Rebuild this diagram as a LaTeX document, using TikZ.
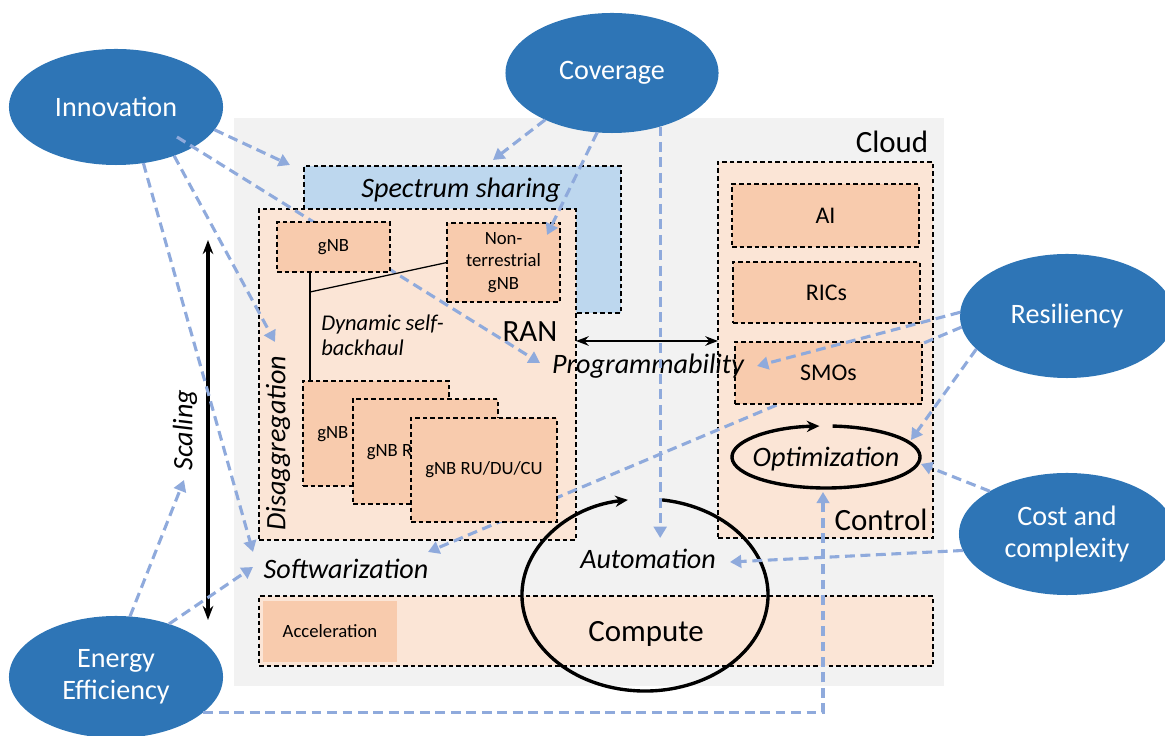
\documentclass[tikz,border=0pt]{standalone}
\usepackage{fontspec}
\setmainfont{Carlito}
\usepackage{tikz}
\usetikzlibrary{arrows.meta, calc, fit, shapes.geometric}

\definecolor{blau}{RGB}{46,117,182}
\definecolor{pfeilblau}{RGB}{143,170,220}
\definecolor{hellblau}{RGB}{189,215,238}
\definecolor{hellorange}{RGB}{251,229,214}
\definecolor{lachs}{RGB}{248,203,173}
\definecolor{grau}{RGB}{242,242,242}

\tikzset{
  ziel/.style={ellipse, fill=blau, text=white, inner sep=0pt, outer sep=0pt, align=center, font=\fontsize{20}{23}\selectfont},
  kasten/.style={draw, line width=0.8pt, dash pattern=on 3.2pt off 2.2pt, inner sep=0pt, outer sep=0pt},
  pfeil/.style={draw=pfeilblau, line width=2.2pt, dash pattern=on 7pt off 4pt, -{Triangle[length=8pt, width=9pt]}},
  kursiv/.style={font=\fontsize{20}{23}\selectfont\itshape},
  gross/.style={font=\fontsize{22}{26}\selectfont},
  mittel/.style={font=\fontsize{17}{20}\selectfont},
  klein/.style={font=\fontsize{13.3}{16}\selectfont},
  bogen/.style={line width=2.4pt, -{Stealth[length=9pt, width=8pt]}},
}

\begin{document}
\begin{tikzpicture}[x=0.025cm, y=0.025cm]
    % Rahmen und Hintergrund
    \useasboundingbox (0,0) rectangle (1165,736);
    \fill[grau] (234,50) rectangle (944,618);

    % Ziele (Ellipsen)
    \node[ziel, minimum width=5.35cm, minimum height=2.9cm] (innov) at (116,629) {Innovation};
    \node[ziel, minimum width=5.325cm, minimum height=3cm] (cover) at (612,663) {Coverage};
    \node[ziel, minimum width=5.35cm, minimum height=3.1cm] (resil) at (1067,420) {Resiliency};
    \node[ziel, minimum width=5.4cm, minimum height=3.05cm] (cost) at (1067,202) {Cost and\\complexity};
    \node[ziel, minimum width=5.35cm, minimum height=3.05cm] (energy) at (116,59) {Energy\\Efficiency};

    % Bereiche
    \node[kasten, fill=hellblau, fit={(304,423) (621,570)}] (spektrum) {};
    \node[kasten, fill=hellorange, fit={(259,196) (576,527)}] (ran) {};
    \node[kasten, fill=hellorange, fit={(718,198) (933,574)}] (control) {};
    \node[kasten, fill=hellorange, fit={(259,70) (933,140)}] (compute) {};
    \node[fill=lachs, inner sep=0pt, fit={(263,74) (397,135)}] (accel) {};
    \node[klein] (acceltxt) at (accel) {Acceleration};

    % Pfeile unter den Kaesten
    \coordinate (zprog) at (540,373);
    \coordinate (zsoft) at (428,184);
    \draw[pfeil] ([shift={(61,-30)}]innov.center) -- (zprog);
    \draw[pfeil] (resil.186) -- (zsoft);

    % Kaesten
    \node[kasten, fill=lachs, fit={(277,464) (390,514)}] (gnb) {};
    \node[klein] at (gnb) {gNB};
    \node[kasten, fill=lachs, fit={(447,434) (560,513)}] (ntgnb) {};
    \node[klein, align=center] at (ntgnb) {Non-\\terrestrial\\gNB};
    \node[kasten, fill=lachs, fit={(303,250) (449,355)}] (stapel1) {};
    \node[klein] at (stapel1) {gNB RU/DU/CU};
    \node[kasten, fill=lachs, fit={(353,232) (498,337)}] (stapel2) {};
    \node[klein] at (stapel2) {gNB RU/DU/CU};
    \node[kasten, fill=lachs, fit={(411,214) (557,318)}] (stapel3) {};
    \node[klein] at (stapel3) {gNB RU/DU/CU};
    \node[kasten, fill=lachs, fit={(732,489) (919,552)}] (ai) {};
    \node[mittel] at (ai) {AI};
    \node[kasten, fill=lachs, fit={(733,413) (920,474)}] (rics) {};
    \node[mittel] at (rics) {RICs};
    \node[kasten, fill=lachs, fit={(735,332) (922,394)}] (smos) {};
    \node[mittel] at (smos) {SMOs};

    % Selbst-Backhaul
    \coordinate (bh) at (310,444);
    \draw[line width=0.9pt] (gnb.south -| bh) -- (stapel1.north -| bh);
    \draw[line width=0.9pt] (bh) -- (ntgnb.west);

    % Beschriftungen
    \node[kursiv] (spektrumtxt) at (461,546) {Spectrum sharing};
    \node[font=\fontsize{16}{18}\selectfont\itshape, anchor=west, align=left, inner sep=0pt] (backhaul) at (321,401) {Dynamic self-\\backhaul};
    \node[gross] (rantxt) at (530,404) {RAN};
    \node[kursiv, rotate=90] (disagg) at (278,293) {Disaggregation};
    \node[gross] (cloud) at (892,594) {Cloud};
    \node[gross] (controltxt) at (881,216) {Control};
    \node[gross] (computetxt) at (646,102) {Compute};
    \node[kursiv] (opt) at (826,277) {Optimization};
    \node[kursiv] (auto) at (648,177) {Automation};
    \node[kursiv] (prog) at (648,370) {Programmability};
    \node[kursiv] (soft) at (346,167) {Softwarization};
    \node[kursiv, rotate=90] (skal) at (185,306) {Scaling};

    % Kreislaeufe
    \coordinate (optm) at (826,279);
    \draw[bogen] ($(optm)+(86:2.35cm and 0.775cm)$) arc[start angle=86, end angle=-266, x radius=2.35cm, y radius=0.775cm];
    \coordinate (autom) at (645,141);
    \draw[bogen] ($(autom)+(82:3.075cm and 2.4cm)$) arc[start angle=82, end angle=-262, x radius=3.075cm, y radius=2.4cm];

    % Schwarze Pfeile
    \coordinate (zdoppel) at (648,395);
    \draw[line width=2pt, {Stealth[length=9pt]}-{Stealth[length=9pt]}] (ran.east |- zdoppel) -- (control.west |- zdoppel);
    \coordinate (skaloben) at (208,496);
    \coordinate (skalunten) at (208,116);
    \draw[line width=2.5pt, {Stealth[length=10pt]}-{Stealth[length=10pt]}] (skalunten) -- (skaloben);

    % Blaue Pfeile
    \coordinate (zspektrum) at (290,571);
    \coordinate (zdisagg) at (275,394);
    \coordinate (zsoftl) at (253,184);
    \coordinate (zskal) at (184,256);
    \coordinate (zsoftu) at (253,169);
    \coordinate (zopt) at (823,244);
    \coordinate (zspekoben) at (493,576);
    \coordinate (zntgnb) at (547,501);
    \coordinate (zauto) at (660,198);
    \coordinate (zsmos) at (757,370);
    \coordinate (zoptrechts) at (911,296);
    \coordinate (zoptseite) at (921,272);
    \coordinate (zautoseite) at (730,174);

    \draw[pfeil] (innov.-13) -- (zspektrum);
    \draw[pfeil] (innov.-40) -- (zdisagg);
    \draw[pfeil] (innov.-64) -- (zsoftl);
    \draw[pfeil] (energy.77) -- (zskal);
    \draw[pfeil] (energy.45) -- (zsoftu);
    \draw[pfeil] (energy.-22) -| (zopt);
    \draw[pfeil] (cover.-145) -- (zspekoben);
    \draw[pfeil] (cover.-104) -- (zntgnb);
    \draw[pfeil] (cover.-48) -- (cover.-48 |- zauto);
    \draw[pfeil] (resil.178) -- (zsmos);
    \draw[pfeil] (resil.200) -- (zoptrechts);
    \draw[pfeil] (cost.151) -- (zoptseite);
    \draw[pfeil] (cost.189) -- (zautoseite);
\end{tikzpicture}
\end{document}
